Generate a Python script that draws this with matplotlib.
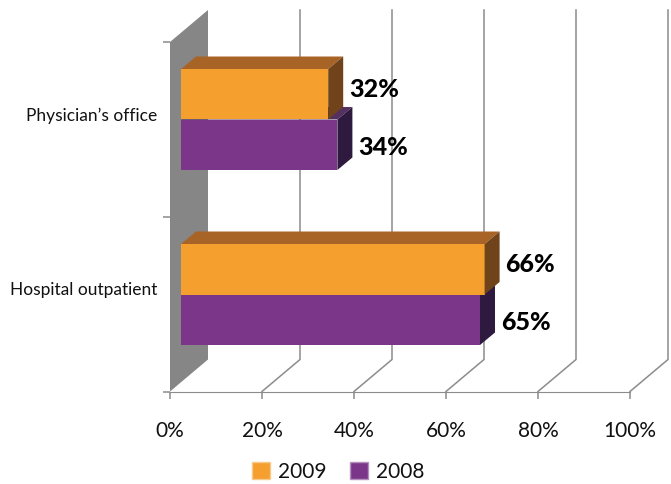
import matplotlib
matplotlib.use("Agg")
import matplotlib.pyplot as plt
from matplotlib.patches import Patch, Polygon
from matplotlib.ticker import FixedLocator

# Data
categories = ["Hospital outpatient", "Physician\u2019s office"]
years = ["2009", "2008"]
values_2009 = [66, 32]
values_2008 = [65, 34]
tick_values = [0, 20, 40, 60, 80, 100]
tick_labels = ["0%", "20%", "40%", "60%", "80%", "100%"]

plt.rcParams["font.family"] = ["Lato", "Liberation Sans"]

W, H = 671, 484
fig = plt.figure(figsize=(W / 100, H / 100), dpi=100)
ax = fig.add_axes([170 / W, (H - 391.5) / H, 460 / W, 349.5 / H])
ax.set_xlim(0, 100)
ax.set_ylim(0, 2)

# pixel sizes of the fake 3d
px_x = 460 / 100
px_y = 349.5 / 2
wall_dx = 38 / px_x
wall_dy = 32 / px_y
bar_dx = 15 / px_x
bar_dy = 12.5 / px_y
shift_x = 11 / px_x
bar_h = 50.5 / px_y
line_col = "#8c8c8c"

# side wall
ax.add_patch(Polygon([(0, 0), (wall_dx, wall_dy), (wall_dx, 2 + wall_dy), (0, 2)],
                     fc="#868686", ec="none", clip_on=False, zorder=1))

# grid on floor and back wall
for t in tick_values[1:]:
    ax.plot([t, t + wall_dx, t + wall_dx], [0, wall_dy, 2 + wall_dy],
            color=line_col, lw=1.1, clip_on=False, zorder=1)


def bar3d(val, y0, face, top, side):
    left = shift_x
    right = shift_x + val
    y1 = y0 + bar_h
    ax.barh(y0 + bar_h / 2, val, height=bar_h, left=left, color=face, zorder=3)
    ax.add_patch(Polygon([(left, y1), (left + bar_dx, y1 + bar_dy),
                          (right + bar_dx, y1 + bar_dy), (right, y1)],
                         fc=top, ec="none", zorder=3))
    ax.add_patch(Polygon([(right, y0), (right + bar_dx, y0 + bar_dy),
                          (right + bar_dx, y1 + bar_dy), (right, y1)],
                         fc=side, ec="none", zorder=3))


base_y = [(391.5 - 345) / px_y, (391.5 - 170) / px_y]
for i in range(len(categories)):
    bar3d(values_2008[i], base_y[i], "#7b368a", "#53305f", "#2f1a3f")
    bar3d(values_2009[i], base_y[i] + bar_h, "#f49f2e", "#a86427", "#70431a")
    ax.text(values_2009[i] + shift_x + bar_dx + 6 / px_x, base_y[i] + bar_h * 1.5 + 5 / px_y,
            f"{values_2009[i]}%", fontsize=18, fontweight="black", va="center", ha="left", zorder=4)
    ax.text(values_2008[i] + shift_x + bar_dx + 6 / px_x, base_y[i] + bar_h * 0.5 - 3 / px_y,
            f"{values_2008[i]}%", fontsize=18, fontweight="black", va="center", ha="left", zorder=4)

# axes
for s in ["top", "right"]:
    ax.spines[s].set_visible(False)
ax.spines["bottom"].set_color(line_col)
ax.spines["left"].set_visible(False)
ax.patch.set_alpha(0)
ax.set_xticks(tick_values)
ax.set_xticklabels(tick_labels, fontsize=15, color="#111111")
ax.tick_params(axis="x", length=5, width=1.1, color=line_col, pad=16)
ax.yaxis.set_major_locator(FixedLocator([0, 1, 2]))
ax.set_yticklabels(["", "", ""])
ax.tick_params(axis="y", length=5, width=1.1, color=line_col, direction="out")
for i, c in enumerate(categories):
    ax.text(-13 / px_x, i + 0.5 + 14 / px_y, c, fontsize=12.5, ha="right", va="center", color="#111111")

handles = [Patch(fc="#f49f2e", ec="#f7c98c", label=years[0]),
           Patch(fc="#7b368a", ec="#b58fbd", label=years[1])]
fig.legend(handles=handles, loc="center", bbox_to_anchor=(338 / W, (H - 472) / H), ncol=2,
           frameon=False, fontsize=15, handlelength=0.864, handleheight=0.864,
           handletextpad=0.38, columnspacing=1.15, labelcolor="#111111",
           borderpad=0, borderaxespad=0)

fig.savefig("out.png", dpi=100)
